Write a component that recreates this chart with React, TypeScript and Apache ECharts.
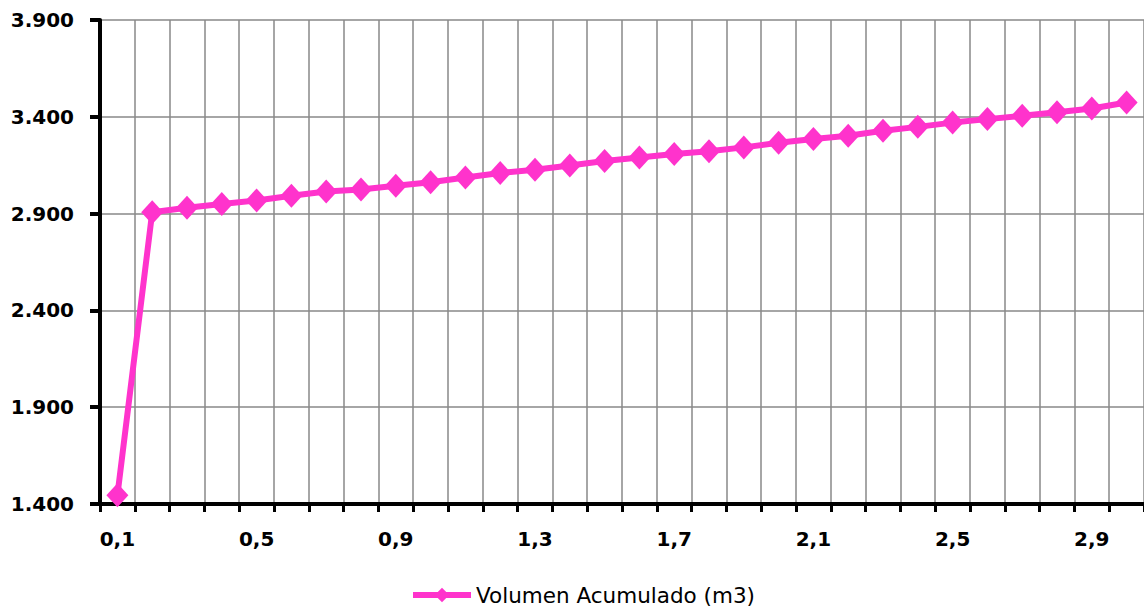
import React, { useEffect, useRef } from "react";
import * as echarts from "echarts";

const categories: string[] = [
  "0,1", "0,2", "0,3", "0,4", "0,5", "0,6", "0,7", "0,8", "0,9", "1,0",
  "1,1", "1,2", "1,3", "1,4", "1,5", "1,6", "1,7", "1,8", "1,9", "2,0",
  "2,1", "2,2", "2,3", "2,4", "2,5", "2,6", "2,7", "2,8", "2,9", "3,0",
];

const volumenAcumulado: number[] = [
  1445, 2907, 2930, 2950, 2968, 2992, 3014, 3024, 3044, 3062,
  3086, 3110, 3127, 3148, 3172, 3190, 3208, 3222, 3242, 3266,
  3285, 3302, 3328, 3348, 3370, 3388, 3405, 3423, 3443, 3474,
];

const seriesName = "Volumen Acumulado (m3)";
const yMin = 1400;
const yMax = 3900;
const yStep = 500;

export default function App() {
  const ref = useRef<HTMLDivElement>(null);

  useEffect(() => {
    if (!ref.current) return;
    const chart = echarts.init(ref.current, null, { renderer: "svg" });
    const pink = "#FF33CC";
    chart.setOption({
      animation: false,
      backgroundColor: "#ffffff",
      grid: { left: 100, top: 20, right: 0, bottom: 108, containLabel: false },
      legend: {
        data: [seriesName],
        left: 408,
        top: 582,
        padding: 2,
        itemWidth: 58,
        itemHeight: 18,
        lineStyle: { width: 6 },
        textStyle: {
          fontFamily: "DejaVu Sans",
          fontSize: 21.5,
          color: "#000",
        },
      },
      xAxis: {
        type: "category",
        data: categories,
        boundaryGap: true,
        axisLine: { show: true, lineStyle: { color: "#000", width: 4 } },
        axisTick: {
          show: true,
          interval: 0,
          length: 8,
          lineStyle: { color: "#000", width: 3 },
        },
        axisLabel: {
          interval: 3,
          margin: 25,
          fontFamily: "DejaVu Sans",
          fontWeight: "bold",
          fontSize: 20,
          color: "#000",
        },
        splitLine: {
          show: true,
          interval: 0,
          lineStyle: { color: "#888888", width: 1.5 },
        },
      },
      yAxis: {
        type: "value",
        min: yMin,
        max: yMax,
        interval: yStep,
        axisLine: { show: true, lineStyle: { color: "#000", width: 4 } },
        axisTick: { show: true, length: 10, lineStyle: { color: "#000", width: 4 } },
        axisLabel: {
          margin: 26,
          fontFamily: "DejaVu Sans",
          fontWeight: "bold",
          fontSize: 20,
          color: "#000",
          formatter: (v: number) => {
            const s = String(Math.round(v));
            return s.length > 3 ? s.slice(0, s.length - 3) + "." + s.slice(-3) : s;
          },
        },
        splitLine: { show: true, lineStyle: { color: "#888888", width: 1.5 } },
      },
      series: [
        {
          name: seriesName,
          type: "line",
          data: volumenAcumulado,
          color: pink,
          lineStyle: { color: pink, width: 6 },
          itemStyle: { color: pink },
          symbol: "diamond",
          symbolSize: [22, 24],
          showSymbol: true,
          showAllSymbol: true,
        },
      ],
    });
    return () => chart.dispose();
  }, []);

  return (
    <div
      ref={ref}
      style={{ position: "fixed", left: 0, top: 0, width: 1144, height: 612 }}
    />
  );
}
